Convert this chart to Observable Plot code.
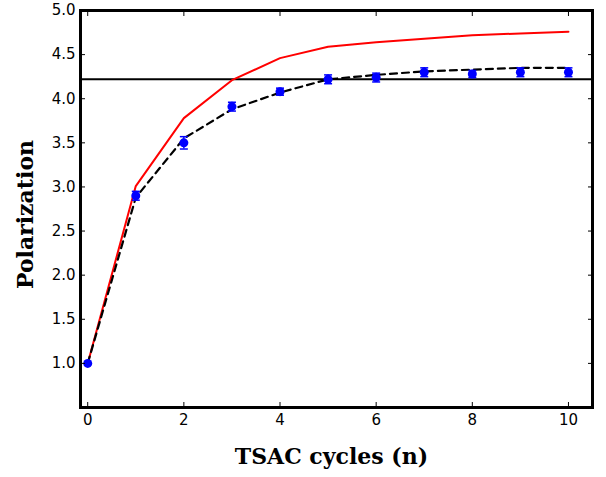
<!DOCTYPE html>
<html><head><meta charset="utf-8">
<script src="https://cdn.jsdelivr.net/npm/d3@7"></script>
<script src="https://cdn.jsdelivr.net/npm/@observablehq/plot@0.6"></script>
<style>
body{margin:0;background:#fff;}
#chart svg{display:block;}
</style>
</head><body>
<div id="chart"></div>
<script>
const cycles = [0,1,2,3,4,5,6,7,8,9,10];
const measured = [1.0,2.90,3.50,3.91,4.08,4.22,4.24,4.30,4.28,4.30,4.30];
const errors = [0.0,0.05,0.07,0.05,0.04,0.05,0.05,0.05,0.04,0.05,0.05];
const fitDashed = [1.0,2.88,3.55,3.88,4.07,4.22,4.27,4.31,4.33,4.35,4.35];
const modelRed = [1.0,3.01,3.78,4.21,4.46,4.59,4.64,4.68,4.72,4.74,4.76];
const threshold = 4.22;
const xTicks = [0,2,4,6,8,10];
const yTicks = [1.0,1.5,2.0,2.5,3.0,3.5,4.0,4.5,5.0];

const meas = cycles.map((c,i)=>({x:c,y:measured[i],lo:measured[i]-errors[i],hi:measured[i]+errors[i],e:errors[i]}));
const fit = cycles.map((c,i)=>({x:c,y:fitDashed[i]}));
const red = cycles.map((c,i)=>({x:c,y:modelRed[i]}));
const errs = meas.filter(d=>d.e>0);

const cap = {draw(ctx,size){ctx.moveTo(-4,0);ctx.lineTo(4,0);}};

const plot = Plot.plot({
  width: 606, height: 477,
  marginLeft: 80, marginRight: 14, marginTop: 10, marginBottom: 70,
  style: {fontFamily: "DejaVu Sans", fontSize: "15px", color: "#000", background: "#fff"},
  x: {domain: [-0.15, 10.5]},
  y: {domain: [0.5, 5.0]},
  marks: [
    Plot.ruleY([threshold], {stroke: "#000", strokeWidth: 2}),
    Plot.line(red, {x: "x", y: "y", stroke: "#ff0000", strokeWidth: 2}),
    Plot.line(fit, {x: "x", y: "y", stroke: "#000", strokeWidth: 2.2, strokeDasharray: "7,5"}),
    Plot.ruleX(errs, {x: "x", y1: "lo", y2: "hi", stroke: "#0000ff", strokeWidth: 1.5}),
    Plot.dot(errs, {x: "x", y: "lo", symbol: cap, stroke: "#0000ff", strokeWidth: 1.5, r: 4}),
    Plot.dot(errs, {x: "x", y: "hi", symbol: cap, stroke: "#0000ff", strokeWidth: 1.5, r: 4}),
    Plot.dot(meas, {x: "x", y: "y", fill: "#0000ff", r: 4.5}),
    Plot.axisX(xTicks, {anchor: "bottom", tickSize: -5, tickPadding: 12, tickFormat: d => String(d), fontSize: 15, label: null, strokeWidth: 1}),
    Plot.axisX(xTicks, {anchor: "top", tickSize: -5, text: null, label: null, strokeWidth: 1}),
    Plot.axisY(yTicks, {anchor: "left", tickSize: -5, tickPadding: 10, tickFormat: d => d.toFixed(1), fontSize: 15, label: null, strokeWidth: 1}),
    Plot.axisY(yTicks, {anchor: "right", tickSize: -5, text: null, label: null, strokeWidth: 1}),
    Plot.frame({stroke: "#000", strokeWidth: 3}),
    Plot.text(["TSAC cycles (n)"], {frameAnchor: "bottom", dy: 56, dx: -5, fontFamily: "DejaVu Serif", fontWeight: "bold", fontSize: 22, letterSpacing: "1.1px"}),
    Plot.text(["Polarization"], {frameAnchor: "left", textAnchor: "middle", dx: -55, dy: 5.5, rotate: -90, fontFamily: "DejaVu Serif", fontWeight: "bold", fontSize: 22, letterSpacing: "1.3px"})
  ]
});
document.getElementById("chart").appendChild(plot);
</script>
</body></html>
